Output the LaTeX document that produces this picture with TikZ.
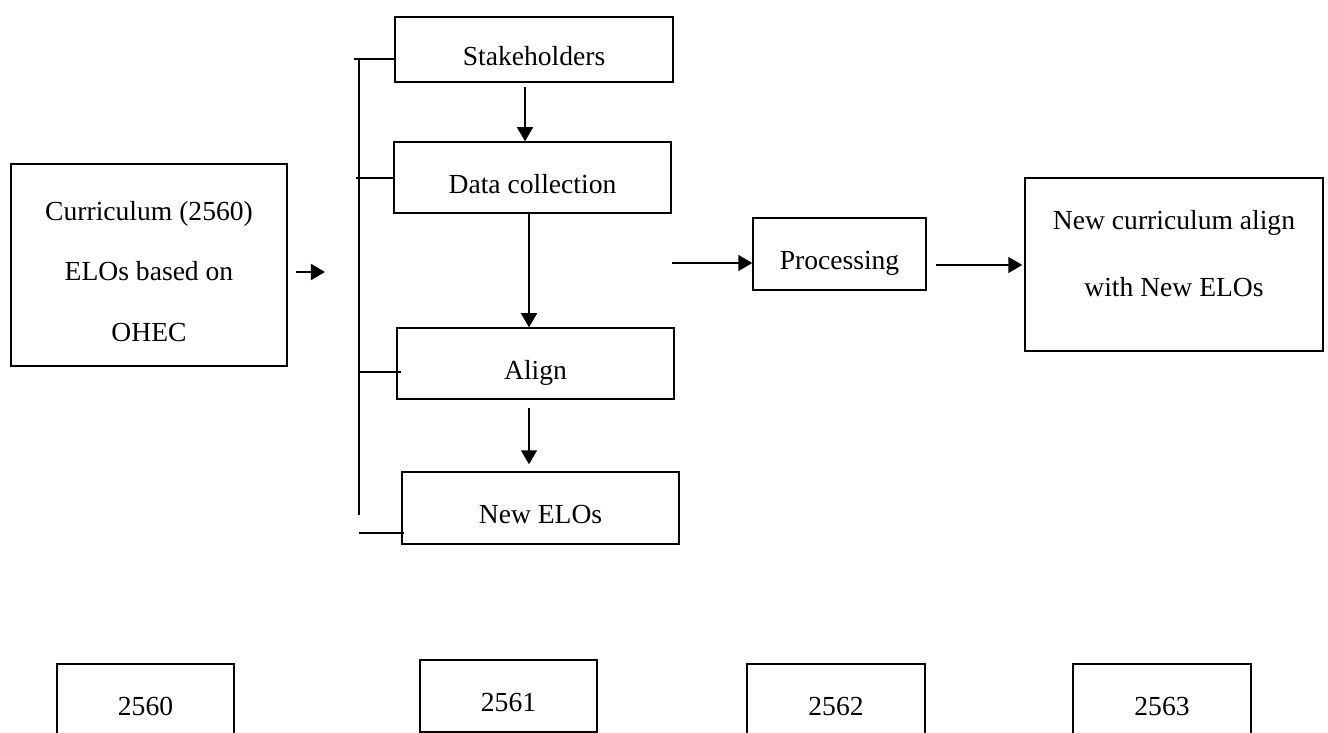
\documentclass[tikz,border=0pt]{standalone}
\usepackage{fontspec}
\setmainfont{Liberation Serif}
\usetikzlibrary{arrows.meta}

\begin{document}
\begin{tikzpicture}[x=0.02cm, y=-0.02cm, line width=0.8pt, every node/.style={font=\fontsize{15.7}{19}\selectfont}]
\tikzset{frame/.style = {draw, inner sep=0pt}}
\tikzset{box/.style = {frame, text height=21.2pt, text depth=3.4pt}}
\tikzset{edge/.style = {line width=1.2pt, -{Triangle[length=8pt,width=9pt]}}}
\tikzset{link/.style = {line width=0.8pt}}
\useasboundingbox (0,0) rectangle (1328,733);
\clip (0,0) rectangle (1328,733);
% main
\node[frame, minimum width=5.52cm, minimum height=4.04cm, align=center, font=\fontsize{15.7}{34.3}\selectfont] (curr) at (149,265) {\rule{0pt}{18.2pt}Curriculum (2560)\\ELOs based on\\OHEC};
\node[box, minimum width=5.56cm, minimum height=1.3cm] (stake) at (534,49.5) {Stakeholders};
\node[box, minimum width=5.54cm, minimum height=1.42cm] (data) at (532.5,177.5) {Data collection};
\node[box, minimum width=5.54cm, minimum height=1.42cm] (align) at (535.5,363.5) {Align};
\node[box, minimum width=5.54cm, minimum height=1.44cm] (newelos) at (540.5,508) {New ELOs};
\node[box, minimum width=3.46cm, minimum height=1.44cm] (proc) at (839.5,254) {Processing};
\node[frame, minimum width=5.96cm, minimum height=3.46cm, align=center, font=\fontsize{15.7}{38}\selectfont] (newc) at (1174,264.5) {New curriculum align\\with New ELOs\rule[-13pt]{0pt}{13pt}};

% years
\node[box, minimum width=3.54cm, minimum height=1.44cm] (y60) at (145.5,700) {2560};
\node[box, minimum width=3.54cm, minimum height=1.44cm] (y61) at (508.5,696) {2561};
\node[box, minimum width=3.56cm, minimum height=1.44cm] (y62) at (836,700) {2562};
\node[box, minimum width=3.56cm, minimum height=1.44cm] (y63) at (1162,700) {2563};

% free ends
\coordinate (c1) at (296,272);
\coordinate (c2) at (325,272);
\coordinate (p1) at (672,263);
\coordinate (p2) at (936,265);
\coordinate (b0) at (354,59);
\coordinate (b1) at (359,59);
\coordinate (b2) at (359,515);
\coordinate (t1) at (356,178);
\coordinate (t2) at (359,372);
\coordinate (t3) at (359,533);

%edges
\draw[edge] (c1) -- (c2);
\draw[edge, shorten <=0.08cm] ([xshift=-0.18cm]stake.south) -- ([xshift=-0.18cm]stake.south |- data.north);
\draw[edge] ([xshift=-0.07cm]data.south) -- ([xshift=-0.07cm]data.south |- align.north);
\draw[edge, shorten <=0.16cm, shorten >=0.14cm] ([xshift=-0.13cm]align.south) -- ([xshift=-0.13cm]align.south |- newelos.north);
\draw[edge] (p1) -- (p1 -| proc.west);
\draw[edge, shorten >=0.04cm] (p2) -- (p2 -| newc.west);

% bracket
\draw[link] (b1) -- (b2);
\draw[link] (b0) -- (b0 -| stake.west);
\draw[link] (t1) -- (t1 -| data.west);
\draw[link, shorten >=-0.1cm] (t2) -- (t2 -| align.west);
\draw[link, shorten >=-0.06cm] (t3) -- (t3 -| newelos.west);

\end{tikzpicture}
\end{document}
